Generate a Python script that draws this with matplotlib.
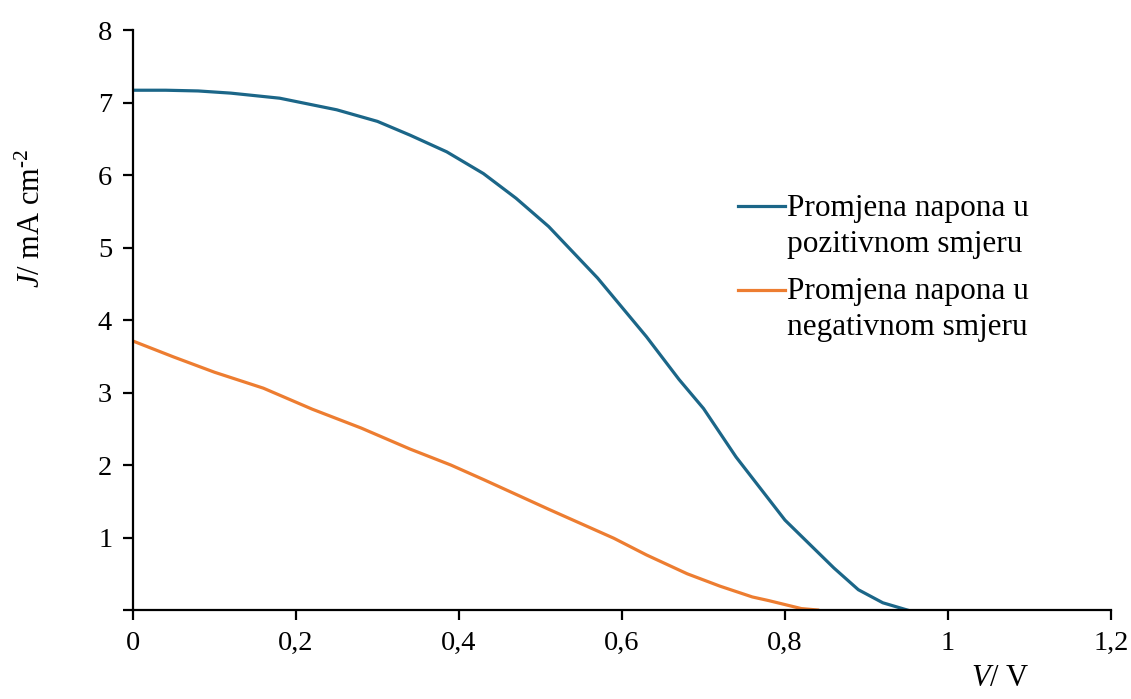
import matplotlib
matplotlib.use("Agg")
import matplotlib.pyplot as plt
from matplotlib.lines import Line2D
from matplotlib.ticker import FixedLocator, FuncFormatter

plt.rcParams["font.family"] = ["Liberation Serif", "DejaVu Serif"]
plt.rcParams["mathtext.fontset"] = "custom"
plt.rcParams["mathtext.rm"] = "Liberation Serif"
plt.rcParams["mathtext.it"] = "Liberation Serif:italic"

# J-V curves
v_pos = [0, 0.04, 0.08, 0.12, 0.18, 0.25, 0.30, 0.34, 0.385, 0.43, 0.47, 0.51,
         0.57, 0.63, 0.67, 0.70, 0.74, 0.80, 0.86, 0.89, 0.92, 0.95]
j_pos = [7.17, 7.17, 7.16, 7.13, 7.06, 6.90, 6.74, 6.55, 6.32, 6.02, 5.68, 5.29,
         4.58, 3.77, 3.18, 2.78, 2.11, 1.24, 0.58, 0.28, 0.10, 0.0]
v_neg = [0, 0.05, 0.10, 0.16, 0.22, 0.28, 0.34, 0.39, 0.43, 0.51, 0.59, 0.63,
         0.68, 0.72, 0.76, 0.78, 0.82, 0.84]
j_neg = [3.71, 3.49, 3.28, 3.06, 2.77, 2.51, 2.22, 2.00, 1.80, 1.39, 0.99, 0.76,
         0.50, 0.33, 0.18, 0.13, 0.02, 0.0]
labels = ["Promjena napona u\npozitivnom smjeru", "Promjena napona u\nnegativnom smjeru"]
colors = ["#1b6688", "#ed7d31"]
x_ticks = [0, 0.2, 0.4, 0.6, 0.8, 1.0, 1.2]
y_ticks = [0, 1, 2, 3, 4, 5, 6, 7, 8]

fig = plt.figure(figsize=(11.31, 6.99), dpi=100)
ax = fig.add_axes([0.1176, 0.1273, 0.8647, 0.8297])

ax.plot(v_pos, j_pos, color=colors[0], lw=2.3)
ax.plot(v_neg, j_neg, color=colors[1], lw=2.3)

ax.set_xlim(0, 1.2)
ax.set_ylim(0, 8)
for s in ["top", "right"]:
    ax.spines[s].set_visible(False)
for s in ["left", "bottom"]:
    ax.spines[s].set_linewidth(1.6)
ax.xaxis.set_major_locator(FixedLocator(x_ticks))
ax.yaxis.set_major_locator(FixedLocator(y_ticks))
ax.xaxis.set_major_formatter(FuncFormatter(lambda x, _: f"{x:g}".replace(".", ",")))
ax.yaxis.set_major_formatter(FuncFormatter(lambda y, _: "" if y == 0 else f"{y:g}"))
ax.tick_params(direction="out", length=7, width=1.6, labelsize=20.5, pad=8)

fig.text(32 / 1131, 1 - 218 / 699, r"$\mathit{J}$/ mA cm$^{\text{-}2}$", rotation=90,
         ha="center", va="center", fontsize=22)
fig.text(1000 / 1131, 1 - 679 / 699, r"$\mathit{V}$/ V", ha="center", va="center",
         fontsize=22)

# legend drawn by hand so the handle sits on the first text line
handle_y = [206, 290]
last_baseline = [252, 335]
for lab, c, hy, by in zip(labels, colors, handle_y, last_baseline):
    fig.add_artist(Line2D([738 / 1131, 785 / 1131], [1 - hy / 699] * 2, color=c, lw=2.3))
    fig.text(787 / 1131, 1 - by / 699, lab, ha="left", va="baseline",
             fontsize=22.5, linespacing=1.3)

fig.savefig("out.png", dpi=100)
